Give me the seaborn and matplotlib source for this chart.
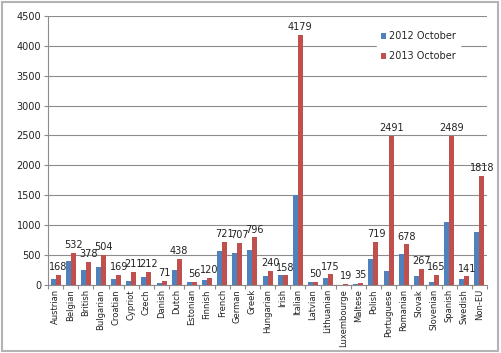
import matplotlib
matplotlib.use('Agg')
import numpy as np
import pandas as pd
import matplotlib.pyplot as plt
import seaborn as sns
from matplotlib.patches import Rectangle

# ==========================================
# DATA
# ==========================================
nations = ["Austrian", "Belgian", "British", "Bulgarian", "Croatian", "Cypriot",
           "Czech", "Danish", "Dutch", "Estonian", "Finnish", "French", "German",
           "Greek", "Hungarian", "Irish", "Italian", "Latvian", "Lithuanian",
           "Luxembourge", "Maltese", "Polish", "Portuguese", "Romanian", "Slovak",
           "Slovenian", "Spanish", "Swedish", "Non-EU"]
oct_2012 = [105, 400, 250, 300, 105, 60, 135, 25, 255, 45, 75, 575, 530, 580,
            150, 165, 1505, 45, 110, 5, 20, 425, 225, 515, 145, 50, 1060, 105, 880]
oct_2013 = [168, 532, 378, 504, 169, 211, 212, 71, 438, 56, 120, 721, 707, 796,
            240, 158, 4179, 50, 175, 19, 35, 719, 2491, 678, 267, 165, 2489, 141, 1818]
series = ["2012 October", "2013 October"]
yticks = list(range(0, 5000, 500))

df = pd.DataFrame({
    "nation": nations * 2,
    "count": oct_2012 + oct_2013,
    "series": [series[0]] * len(nations) + [series[1]] * len(nations),
})

# ==========================================
# PLOT
# ==========================================
sns.set_style("white")
plt.rcParams['font.family'] = ['DejaVu Sans']

fig = plt.figure(figsize=(5.01, 3.53), dpi=100)
ax = fig.add_axes([0.096, 0.193, 0.876, 0.762])

sns.barplot(data=df, x="nation", y="count", hue="series",
            palette=["#4F81BD", "#C0504D"], width=0.66, gap=0,
            saturation=1, linewidth=0, ax=ax, zorder=3)

ax.bar_label(ax.containers[1], fontsize=7, padding=2, color="#222222")

ax.set_ylim(0, 4500)
ax.set_yticks(yticks)
ax.set_xlim(-0.5, len(nations) - 0.5)
ax.set_xlabel("")
ax.set_ylabel("")
ax.grid(axis="y", color="#8c8c8c", linewidth=0.8, zorder=0)

ax.tick_params(axis="y", labelsize=7, length=3, width=0.8, color="#8c8c8c",
               pad=2, left=True, labelcolor="#222222")
ax.tick_params(axis="x", which="major", labelsize=6, rotation=90,
               length=0, pad=3, labelcolor="#222222")
ax.set_xticks(np.arange(-0.5, len(nations), 1), minor=True)
ax.tick_params(axis="x", which="minor", length=3, width=0.8, color="#8c8c8c",
               bottom=True)

for s in ["top", "right"]:
    ax.spines[s].set_visible(False)
for s in ["left", "bottom"]:
    ax.spines[s].set_color("#8c8c8c")
    ax.spines[s].set_linewidth(0.8)

leg = ax.legend(loc="upper right", bbox_to_anchor=(0.95, 0.975), fontsize=7,
                frameon=True, edgecolor="white", facecolor="white", framealpha=1,
                handlelength=0.6, handleheight=0.6, handletextpad=0.3,
                labelspacing=1.0, borderpad=0.4)

fig.patches.append(Rectangle((0.004, 0.005), 0.99, 0.99, transform=fig.transFigure,
                             fill=False, edgecolor="#b3b3b3", linewidth=1.5))

plt.savefig("out.png", dpi=100)
plt.close()
